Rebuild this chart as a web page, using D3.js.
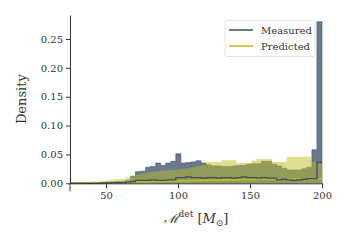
<!DOCTYPE html>
<html>
<head>
<meta charset="utf-8">
<script src="https://cdn.jsdelivr.net/npm/d3@7"></script>
<style>
  body { margin: 0; background: #fff; }
  svg { display: block; }
  .tick text { font-family: "DejaVu Serif", serif; font-size: 10px; fill: #333; }
</style>
</head>
<body>
<svg id="chart" width="347" height="247"></svg>
<script>
// bins: 50 bins of 3.5 from 25 to 200
var binStart = 25, binWidth = 3.5
var measuredFill = [0.001,0.001,0.001,0.001,0.001,0.001,0.001,0.002,0.002,0.003,
  0.003,0.005,0.012,0.020,0.021,0.028,0.029,0.035,0.031,0.035,
  0.038,0.051,0.035,0.036,0.037,0.039,0.035,0.032,0.030,0.030,
  0.029,0.029,0.030,0.031,0.031,0.033,0.034,0.034,0.038,0.038,
  0.033,0.030,0.026,0.023,0.023,0.023,0.025,0.028,0.058,0.280]
var predictedFill = [0.001,0.001,0.002,0.002,0.003,0.003,0.004,0.005,0.006,0.007,
  0.008,0.010,0.013,0.015,0.017,0.019,0.020,0.021,0.022,0.022,
  0.023,0.024,0.025,0.026,0.028,0.030,0.032,0.037,0.037,0.037,
  0.040,0.040,0.040,0.035,0.035,0.035,0.039,0.042,0.042,0.042,
  0.037,0.037,0.037,0.046,0.046,0.046,0.046,0.046,0.037,0.037]
var measuredLow = [0,0,0,0,0,0,0.0005,0.0005,0.001,0.001,
  0.001,0.002,0.003,0.005,0.005,0.005,0.006,0.005,0.005,0.006,
  0.006,0.010,0.010,0.011,0.010,0.010,0.009,0.010,0.010,0.009,
  0.010,0.010,0.009,0.010,0.011,0.010,0.010,0.009,0.010,0.009,
  0.009,0.006,0.007,0.006,0.005,0.006,0.007,0.008,0.008,0.036]
var predictedLow = [0.0003,0.0004,0.0005,0.0006,0.0008,0.001,0.001,0.0012,0.0014,0.0016,
  0.0018,0.002,0.0022,0.0025,0.0027,0.003,0.0032,0.0034,0.0036,0.0038,
  0.004,0.0042,0.0044,0.0046,0.0048,0.005,0.0051,0.0053,0.0055,0.0056,
  0.0058,0.006,0.0061,0.0062,0.0064,0.0065,0.0066,0.0068,0.0069,0.007,
  0.0071,0.0072,0.0073,0.0074,0.0075,0.0076,0.0077,0.0078,0.0079,0.008]
var yTicks = [0, 0.05, 0.10, 0.15, 0.20, 0.25]
var xTicks = [50, 100, 150, 200]
var legendNames = ["Measured", "Predicted"]

var slate = "#5b6a82", slateDark = "#3c4b66", olive = "#bcbd22"

var svg = d3.select("#chart")
var margin = ({top: 15, right: 25, bottom: 63.7, left: 70})
var width = 347, height = 247

var x = d3.scaleLinear()
  .domain([25, 200])
  .range([margin.left, width - margin.right])
var y = d3.scaleLinear()
  .domain([0, 0.2916])
  .range([height - margin.bottom, margin.top])

function steps(vals){
  var pts = vals.map((v, i) => ({x: binStart + i*binWidth, y: v}))
  pts.push({x: binStart + vals.length*binWidth, y: vals[vals.length-1]})
  return pts
}

var area = d3.area()
  .curve(d3.curveStepAfter)
  .x(d => x(d.x))
  .y0(y(0))
  .y1(d => y(d.y))
var line = d3.line()
  .curve(d3.curveStepAfter)
  .x(d => x(d.x))
  .y(d => y(d.y))

// measured filled hist
svg.append("path")
  .datum(steps(measuredFill))
  .attr("fill", slate)
  .attr("fill-opacity", 0.9)
  .attr("d", area)
svg.append("path")
  .datum([{x: 25, y: 0}].concat(steps(measuredFill), [{x: 200, y: 0}]))
  .attr("fill", "none")
  .attr("stroke", slateDark)
  .attr("stroke-width", 0.8)
  .attr("stroke-opacity", 0.7)
  .attr("d", line)

// predicted filled hist
svg.append("path")
  .datum(steps(predictedFill))
  .attr("fill", olive)
  .attr("fill-opacity", 0.5)
  .attr("d", area)

// low step lines
svg.append("path")
  .datum(steps(predictedLow))
  .attr("fill", "none")
  .attr("stroke", olive)
  .attr("stroke-width", 1.5)
  .attr("d", line)
svg.append("path")
  .datum(steps(measuredLow))
  .attr("fill", "none")
  .attr("stroke", slateDark)
  .attr("stroke-width", 1.3)
  .attr("d", line)

// axes
var xAxis = g => g
  .attr("transform", `translate(0,${y(0)})`)
  .call(d3.axisBottom(x).tickValues(xTicks).tickSize(5).tickSizeOuter(0).tickPadding(4))
  .call(g => g.selectAll("line, path").attr("stroke", "#333"))
var yAxis = g => g
  .attr("transform", `translate(${margin.left},0)`)
  .call(d3.axisLeft(y).tickValues(yTicks).tickFormat(d3.format(".2f")).tickSize(4).tickSizeOuter(0).tickPadding(3))
  .call(g => g.selectAll("line, path").attr("stroke", "#333"))
svg.append("g").call(xAxis)
svg.append("g").call(yAxis)
svg.append("line")
  .attr("x1", margin.left).attr("x2", margin.left)
  .attr("y1", y(0)).attr("y2", y(0) + 8)
  .attr("stroke", "#333")

// axis labels
svg.append("text")
  .attr("transform", `translate(21,${(y(0) + margin.top)/2}) rotate(-90)`)
  .attr("text-anchor", "middle")
  .attr("dy", "0.35em")
  .style("font", "13px 'DejaVu Serif', serif")
  .attr("fill", "#333")
  .text("Density")

var xl = svg.append("text")
  .attr("x", 196).attr("y", 223)
  .attr("text-anchor", "middle")
  .style("font", "13px 'DejaVu Serif', serif")
  .attr("fill", "#333")
xl.append("tspan").style("font-style", "italic").text("ℳ")
xl.append("tspan").attr("dy", -6).style("font-size", "9px").text("det")
xl.append("tspan").attr("dy", 6).text(" [")
xl.append("tspan").style("font-style", "italic").text("M")
xl.append("tspan").attr("dy", 3).style("font-size", "9px").text("⊙")
xl.append("tspan").attr("dy", -3).text("]")

// legend
var lg = svg.append("g")
lg.append("rect")
  .attr("x", 225).attr("y", 20.5).attr("width", 90).attr("height", 36)
  .attr("rx", 2)
  .attr("fill", "#fff").attr("fill-opacity", 0.8)
  .attr("stroke", "#ddd").attr("stroke-width", 0.8)
var legendColors = [slateDark, olive]
legendNames.forEach((n, i) => {
  var ly = 30 + i*16
  lg.append("line")
    .attr("x1", 229).attr("x2", 253).attr("y1", ly).attr("y2", ly)
    .attr("stroke", legendColors[i]).attr("stroke-width", 1.5)
  lg.append("text")
    .attr("x", 261).attr("y", ly).attr("dy", "0.35em")
    .style("font", "10px 'DejaVu Serif', serif")
    .attr("fill", "#333")
    .text(n)
})
</script>
</body>
</html>
